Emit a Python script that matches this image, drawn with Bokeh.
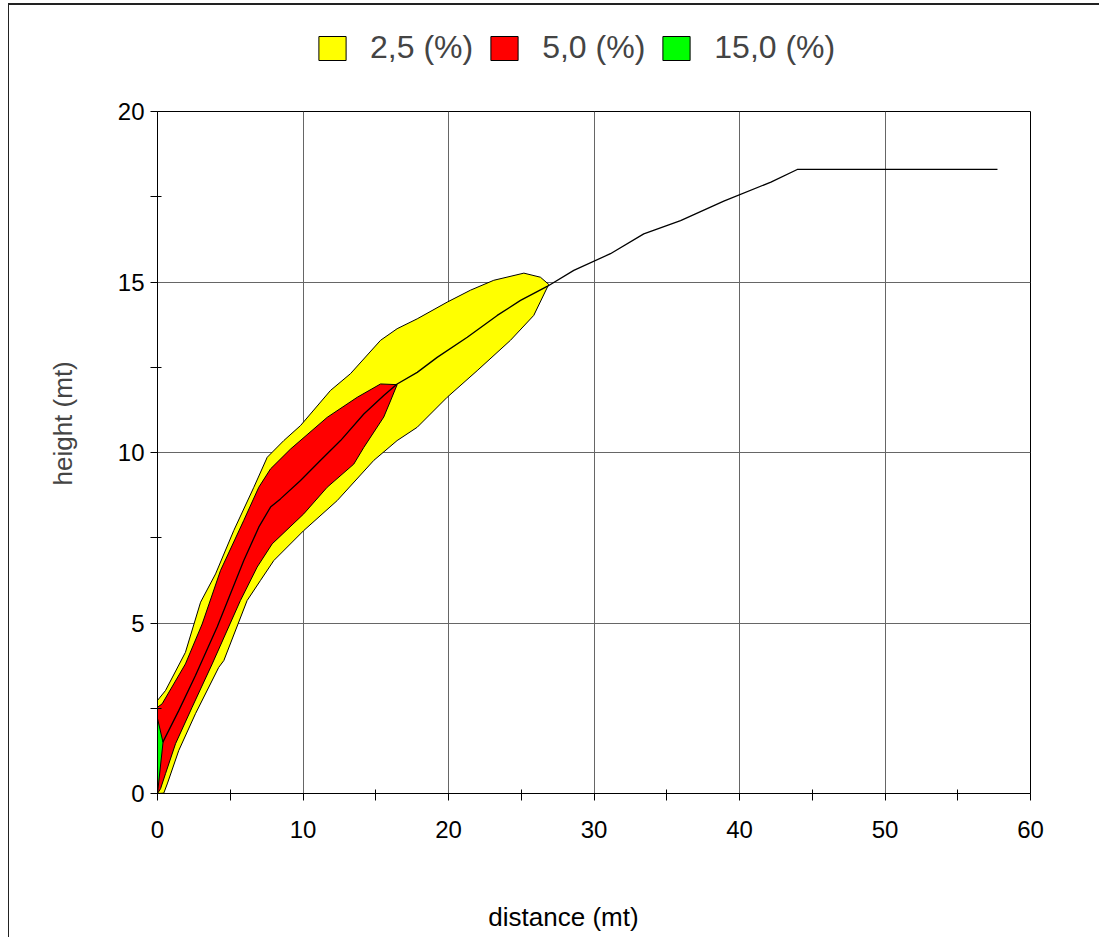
from bokeh.plotting import figure
from bokeh.layouts import column
from bokeh.models import (Range1d, FixedTicker, Legend, LegendItem, Title, Label)
from bokeh.embed import file_html
from bokeh.resources import INLINE

# ---- data ----
legend_labels = ["2,5 (%)", "5,0 (%)", "15,0 (%)"]
legend_colors = ["#FFFF00", "#FF0000", "#00FF00"]

# 2.5 % envelope (upper edge then lower edge, closed at the source)
y25_x = [0.0, 0.0, 0.55, 1.92, 2.96, 3.99, 5.24, 6.62, 7.54, 8.68, 9.83, 11.89, 13.26,
         15.33, 16.47, 17.85, 19.91, 21.51, 23.11, 25.18, 26.32, 26.89,
         25.86, 24.26, 21.97, 19.91, 17.85, 16.47, 14.87, 12.35, 10.05, 7.99, 7.08,
         6.16, 4.56, 4.21, 2.61, 1.46, 0.67, 0.43]
y25_y = [0.0, 2.73, 3.02, 4.14, 5.61, 6.44, 7.71, 8.98, 9.86, 10.35, 10.79, 11.82, 12.31,
         13.29, 13.63, 13.92, 14.41, 14.76, 15.05, 15.26, 15.14, 14.93,
         14.02, 13.29, 12.40, 11.62, 10.74, 10.35, 9.77, 8.59, 7.71, 6.83, 6.25,
         5.66, 3.90, 3.70, 2.34, 1.26, 0.28, 0.01]

# 5.0 % envelope
r50_x = [0.0, 0.0, 0.32, 1.92, 3.07, 4.33, 5.93, 6.96, 7.77, 9.14, 11.66, 13.73, 15.33, 16.47,
         16.01, 15.55, 14.18, 13.49, 11.66, 10.05, 7.88, 6.85, 5.70, 3.76, 2.38, 1.24,
         0.55, 0.21]
r50_y = [0.0, 2.53, 2.63, 3.80, 4.97, 6.54, 8.01, 8.98, 9.52, 10.10, 11.03, 11.62, 12.01, 11.99,
         11.51, 11.04, 10.15, 9.66, 8.98, 8.20, 7.32, 6.64, 5.66, 3.80, 2.53, 1.46,
         0.58, 0.14]

# 15.0 % envelope
g150_x = [0.0, 0.38, 0.0]
g150_y = [2.2, 1.5, 0.0]

# plume centre line
cl_x = [0.36, 1.46, 2.61, 4.10, 5.93, 6.96, 7.77, 8.45, 9.83, 11.09, 12.58, 14.18, 15.55,
        16.47, 17.85, 19.22, 21.29, 23.35, 24.95, 26.78, 28.61, 31.13, 33.42, 35.95,
        38.92, 42.16, 43.97, 57.73]
cl_y = [1.50, 2.43, 3.46, 4.88, 6.83, 7.81, 8.40, 8.64, 9.18, 9.72, 10.35, 11.13, 11.67,
        12.01, 12.35, 12.79, 13.38, 14.02, 14.46, 14.87, 15.34, 15.83, 16.41, 16.80,
        17.37, 17.93, 18.30, 18.30]

x_ticks = [0, 10, 20, 30, 40, 50, 60]
x_minor = [5, 15, 25, 35, 45, 55]
y_ticks = [0, 5, 10, 15, 20]
y_minor = [2.5, 7.5, 12.5, 17.5]

x_title = "distance (mt)"
y_title = "height (mt)"

FONT = "Liberation Sans"
envelopes = [(y25_x, y25_y), (r50_x, r50_y), (g150_x, g150_y)]

# ---------- legend strip (top) ----------
# the envelopes are re-drawn here only to provide legend swatches; the
# strip's ranges keep them out of view
top = figure(width=1090, height=80, output_backend="svg", toolbar_location=None,
             x_range=Range1d(100, 101), y_range=Range1d(100, 101),
             x_axis_location=None, y_axis_location=None, min_border=0)
top.outline_line_color = None
top.background_fill_color = "white"
top.border_fill_color = "white"
for g in top.grid:
    g.visible = False
leg_renderers = [top.patch(ex, ey, fill_color=c, line_color="black", line_width=1)
                 for (ex, ey), c in zip(envelopes, legend_colors)]
legend = Legend(items=[LegendItem(label=l, renderers=[r])
                       for l, r in zip(legend_labels, leg_renderers)],
                orientation="horizontal", location=(158, 19),
                padding=0, margin=0, spacing=14, label_standoff=21,
                glyph_width=34, glyph_height=30, label_height=30,
                label_text_font=FONT, label_text_font_size="32px",
                background_fill_alpha=0, border_line_alpha=0)
top.add_layout(legend, "center")

# ---------- main chart ----------
p = figure(width=1090, height=765, output_backend="svg", toolbar_location=None,
           x_range=Range1d(0, 60), y_range=Range1d(0, 20),
           min_border_left=148, min_border_right=69, min_border_top=26,
           min_border_bottom=57)
p.background_fill_color = "white"
p.border_fill_color = "white"
p.outline_line_color = "black"
p.outline_line_width = 1

p.xaxis.ticker = FixedTicker(ticks=x_ticks, minor_ticks=x_minor)
p.yaxis.ticker = FixedTicker(ticks=y_ticks, minor_ticks=y_minor)
for ax in (p.xaxis, p.yaxis):
    ax.axis_line_color = "black"
    ax.major_tick_line_color = "black"
    ax.minor_tick_line_color = "black"
    ax.major_tick_out = 7
    ax.major_tick_in = 0
    ax.minor_tick_out = 7
    ax.minor_tick_in = 4
    ax.major_label_text_font = FONT
    ax.major_label_text_font_size = "24px"
    ax.major_label_text_color = "black"
p.xaxis.major_label_standoff = 20
p.yaxis.major_label_standoff = 6

p.xgrid.ticker = FixedTicker(ticks=x_ticks)
p.ygrid.ticker = FixedTicker(ticks=y_ticks)
p.grid.grid_line_color = "#666666"
p.grid.grid_line_width = 1

for (ex, ey), c in zip(envelopes, legend_colors):
    p.patch(ex, ey, fill_color=c, line_color="black", line_width=1)
p.line(cl_x, cl_y, line_color="black", line_width=1.3)

p.add_layout(Title(text=y_title, align="left", offset=308, standoff=73,
                   text_font=FONT, text_font_size="26px", text_font_style="normal"),
             "left")

# ---------- x-axis title strip (bottom) ----------
bot = figure(width=1090, height=87, output_backend="svg", toolbar_location=None,
             x_range=Range1d(0, 60), y_range=Range1d(0, 87),
             x_axis_location=None, y_axis_location=None, min_border=0)
bot.outline_line_color = None
bot.background_fill_color = "white"
bot.border_fill_color = "white"
for g in bot.grid:
    g.visible = False
bot.add_layout(Label(x=27.9, y=21, text=x_title, text_font=FONT, text_font_size="26px",
                     text_align="center", text_baseline="middle", text_color="black"))

layout = column(top, p, bot, spacing=0,
                styles={"margin-left": "8px", "margin-top": "3px",
                        "border-top": "2px solid #222", "border-left": "1px solid #222"})

open("out.html", "w").write(file_html(layout, INLINE))
